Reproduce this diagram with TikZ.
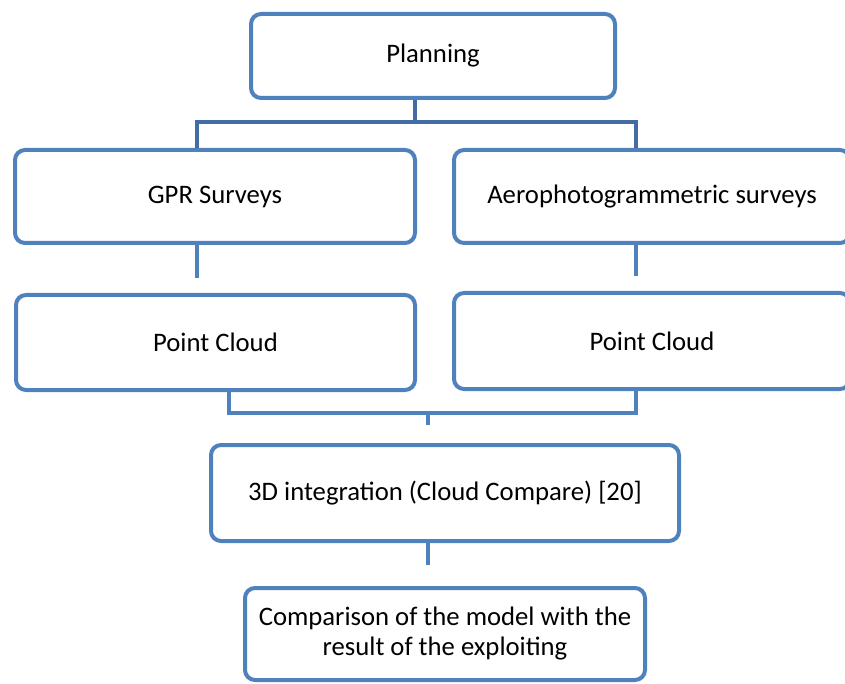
\documentclass[tikz,border=0pt]{standalone}
\usepackage{fontspec}
\setmainfont{Carlito}
\usetikzlibrary{positioning,calc}
\definecolor{boxblue}{RGB}{79,129,189}
\definecolor{linkblue}{RGB}{66,108,163}
\tikzset{
    stepbox/.style={rectangle, rounded corners=10pt, draw=boxblue, line width=4pt, fill=white, align=center, inner sep=0pt, font=\fontsize{26.7}{30}\selectfont},
    link/.style={draw=linkblue, line width=4pt},
    linklight/.style={draw=boxblue, line width=4pt},
}

\begin{document}
\begin{tikzpicture}[x=1pt,y=-1pt]
    \useasboundingbox (0,0) rectangle (845,684);
    \clip (0,0) rectangle (845,684);
    % boxes
    \node[stepbox, minimum width=364pt, minimum height=84pt] (plan) at (433,56) {Planning};
    \node[stepbox, minimum width=400pt, minimum height=93pt] (gpr) at (215,196.5) {GPR Surveys};
    \node[stepbox, minimum width=396pt, minimum height=93pt] (aero) at (652,196.5) {Aerophotogrammetric surveys};
    \node[stepbox, minimum width=399pt, minimum height=95pt] (pcL) at (215.5,342.5) {Point Cloud};
    \node[stepbox, minimum width=396pt, minimum height=96pt] (pcR) at (652,341) {Point Cloud};
    \node[stepbox, minimum width=468pt, minimum height=96pt] (integ) at (445,493) {3D integration (Cloud Compare) [20]};
    \node[stepbox, minimum width=400pt, minimum height=92pt] (comp) at (445,634) {Comparison of the model with the\\result of the exploiting};
    % helper coordinates
    \coordinate (split) at (415,122);
    \coordinate (colL) at (197,0);
    \coordinate (colR) at (636,0);
    \coordinate (joinL) at (229,0);
    \coordinate (merge) at (428,413);
    % connectors
    \draw[link] (plan.south -| split) -- (split);
    \draw[link] (gpr.north -| colL) |- (split) -| (aero.north -| colR);
    \draw[linklight, shorten >=15pt] (gpr.south -| colL) -- (pcL.north -| colL);
    \draw[linklight, shorten >=15pt] (aero.south -| colR) -- (pcR.north -| colR);
    \draw[linklight] (pcL.south -| joinL) |- (merge) -| (pcR.south -| colR);
    \draw[linklight, shorten >=18pt] (merge) -- (integ.north -| merge);
    \draw[linklight, shorten >=21pt] (integ.south -| merge) -- (comp.north -| merge);
\end{tikzpicture}
\end{document}
